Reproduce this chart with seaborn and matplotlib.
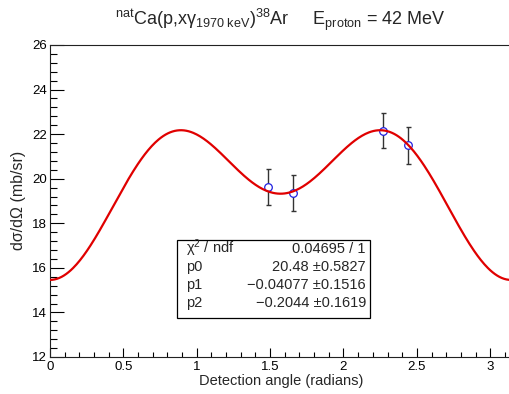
import numpy as np
import pandas as pd
import matplotlib
matplotlib.use("Agg")
import matplotlib.pyplot as plt
from matplotlib.patches import Rectangle
from matplotlib.ticker import MultipleLocator
import seaborn as sns

# measured points (detection angle in radians, cross section in mb/sr)
angle = [1.484, 1.658, 2.269, 2.443]
xsec = [19.61, 19.34, 22.15, 21.50]
xsec_err = [0.81, 0.81, 0.78, 0.82]

# fit parameters shown in the stats box
p0, p1, p2 = 20.48, -0.04077, -0.2044
stat_labels = ["χ$^{2}$ / ndf", "p0", "p1", "p2"]
stat_values = ["0.04695 / 1", "20.48 ±0.5827", "−0.04077 ±0.1516", "−0.2044 ±0.1619"]

x_ticks = [0, 0.5, 1, 1.5, 2, 2.5, 3]
y_ticks = [12, 14, 16, 18, 20, 22, 24, 26]

sns.set_style("ticks")
plt.rcParams["font.family"] = ["Liberation Sans", "DejaVu Sans"]
plt.rcParams["mathtext.fontset"] = "custom"
plt.rcParams["mathtext.rm"] = "Liberation Sans"
plt.rcParams["mathtext.it"] = "Liberation Sans:italic"
plt.rcParams["mathtext.bf"] = "Liberation Sans:bold"

W, H = 509, 394
fig = plt.figure(figsize=(W / 100, H / 100), dpi=100)
ax = fig.add_axes([50 / W, 1 - 357 / H, (511 - 50) / W, (357 - 45) / H])

# fitted Legendre curve  p0 * (1 + p1 P2(cos) + p2 P4(cos))
theta = np.linspace(0, np.pi, 400)
c = np.cos(theta)
P2 = (3 * c**2 - 1) / 2
P4 = (35 * c**4 - 30 * c**2 + 3) / 8
fit = pd.DataFrame({"theta": theta, "f": p0 * (1 + p1 * P2 + p2 * P4)})

ax.errorbar(angle, xsec, yerr=xsec_err, fmt="none", ecolor="#333333",
            elinewidth=1.0, capsize=1.8, capthick=1.0, zorder=2)
sns.scatterplot(x=angle, y=xsec, ax=ax, marker="o", s=30, facecolor="white",
                edgecolor="#2020e0", linewidth=0.9, zorder=3)
sns.lineplot(data=fit, x="theta", y="f", ax=ax, color="#e00000", lw=1.6, zorder=4)

ax.set_xlim(0, np.pi)
ax.set_ylim(12, 26)
ax.set_xticks(x_ticks)
ax.set_xticklabels([f"{t:g}" for t in x_ticks])
ax.set_yticks(y_ticks)
ax.xaxis.set_minor_locator(MultipleLocator(0.1))
ax.yaxis.set_minor_locator(MultipleLocator(0.4))
ax.tick_params(axis="both", which="both", direction="in", colors="black",
               labelsize=9.5, width=0.8)
ax.tick_params(axis="x", which="major", length=6.8, pad=3)
ax.tick_params(axis="x", which="minor", length=3.4)
ax.tick_params(axis="y", which="major", length=9.9, pad=2)
ax.tick_params(axis="y", which="minor", length=5.0)
for sp in ax.spines.values():
    sp.set_color("#222222")
    sp.set_linewidth(0.8)
ax.set_xlabel("")
ax.set_ylabel("")

fig.text(281 / W, 1 - 381 / H, "Detection angle (radians)", ha="center",
         va="center", fontsize=10.5)
fig.text(19 / W, 1 - 200 / H, "dσ/dΩ (mb/sr)", ha="center",
         va="center", rotation=90, fontsize=11.5)

title = (r"$^{\mathrm{nat}}$Ca(p,xγ$_{\mathrm{1970\ keV}}$)$^{\mathrm{38}}$Ar"
         r"     E$_{\mathrm{proton}}$ = 42 MeV")
fig.text(280 / W, 1 - 20 / H, title, ha="center", va="center", fontsize=13)

# stats box
bx0, bx1, by0, by1 = 177, 370, 240, 318
fig.add_artist(Rectangle((bx0 / W, 1 - by1 / H), (bx1 - bx0) / W, (by1 - by0) / H,
                         transform=fig.transFigure, facecolor="white",
                         edgecolor="black", lw=0.9, zorder=5))
for i, (lab, val) in enumerate(zip(stat_labels, stat_values)):
    yb = 253 + 18 * i
    fig.text((bx0 + 9) / W, 1 - yb / H, lab, ha="left", va="baseline",
             fontsize=10.5, zorder=6)
    fig.text((bx1 - 4) / W, 1 - yb / H, val, ha="right", va="baseline",
             fontsize=10.5, zorder=6)

fig.savefig("out.png", dpi=100)
